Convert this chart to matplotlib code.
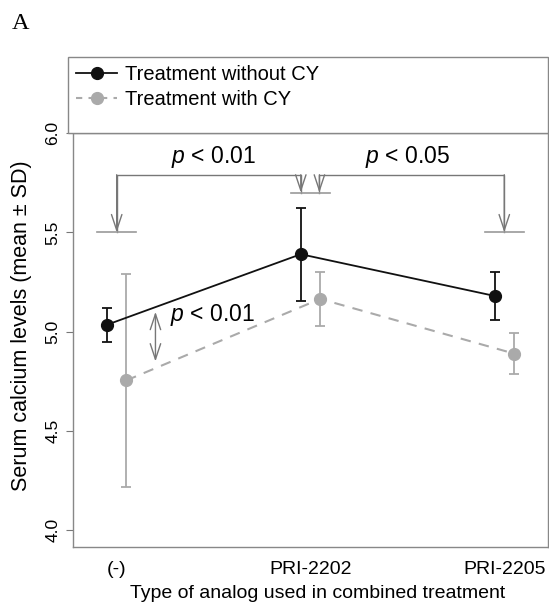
import matplotlib
matplotlib.use("Agg")
import matplotlib.pyplot as plt
from matplotlib.patches import Rectangle

plt.rcParams.update({"font.family": ["Liberation Sans", "DejaVu Sans"],
                     "mathtext.fontset": "custom",
                     "mathtext.it": "Liberation Sans:italic",
                     "mathtext.rm": "Liberation Sans"})

# data
cats = ["(-)", "PRI-2202", "PRI-2205"]
mean_no_cy = [5.035, 5.39, 5.18]
sd_no_cy = [0.085, 0.235, 0.12]
mean_cy = [4.755, 5.165, 4.89]
sd_cy = [0.537, 0.135, 0.105]

BLACK = "#111111"
GREY = "#aaaaaa"
LINE = "#777777"

fig = plt.figure(figsize=(5.49, 6.14), dpi=100)
ax = fig.add_axes([72.7/549, 1-547.3/614, (547.7-72.7)/549, (547.3-133)/614])

x = [1, 2, 3]
off = 0.05
xb = [v - off for v in x]
xg = [v + off for v in x]

ax.errorbar(xb, mean_no_cy, yerr=sd_no_cy, color=BLACK, lw=1.3, marker="o", ms=8.5,
            capsize=3.3, elinewidth=1.3, capthick=1.3, zorder=4)
ax.errorbar(xg, mean_cy, yerr=sd_cy, color=GREY, lw=1.5, ls=(0, (5, 4)), marker="o", ms=8.5,
            capsize=3.3, elinewidth=1.3, capthick=1.3, zorder=3)

ax.set_xlim(0.773, 3.224)
ax.set_ylim(3.915, 6.0)
ax.set_xticks(x)
ax.set_xticklabels(cats, fontsize=14)
ax.tick_params(axis="x", length=0, pad=10)
ax.set_yticks([4.0, 4.5, 5.0, 5.5, 6.0])
ax.set_yticklabels(["4.0", "4.5", "5.0", "5.5", "6.0"], rotation=90, va="center", fontsize=12.5)
ax.tick_params(axis="y", length=5, color=LINE, pad=4)
for s in ax.spines.values():
    s.set_color("#888888")
    s.set_linewidth(1.0)
ax.set_xlabel("Type of analog used in combined treatment", fontsize=14)
ax.xaxis.set_label_coords(0.515, -0.09)
ax.set_ylabel("Serum calcium levels (mean \u00b1 SD)", fontsize=15.5)
ax.yaxis.set_label_coords(-0.086, 0.535)

# significance brackets
yb = 5.79
ax.plot([1, 1, 1.95, 1.95], [5.5, yb, yb, 5.70], color=LINE, lw=1)
ax.plot([2.046, 2.046, 3, 3], [5.70, yb, yb, 5.5], color=LINE, lw=1)
for cx, ly in [(1, 5.5), (2, 5.70), (3, 5.5)]:
    ax.plot([cx - 0.1, cx + 0.1], [ly, ly], color="#999999", lw=1.2)
arw = dict(arrowstyle="->,head_length=0.75,head_width=0.25", color=LINE, lw=1,
           shrinkA=0, shrinkB=0, mutation_scale=15)
for ax_x, top, bot in [(1, yb, 5.5), (1.95, yb, 5.70), (2.046, yb, 5.70), (3, yb, 5.5)]:
    ax.annotate("", xy=(ax_x, bot), xytext=(ax_x, top), arrowprops=arw)
ax.annotate("", xy=(1.2, 4.85), xytext=(1.2, 5.10),
            arrowprops=dict(arrowstyle="<->,head_length=0.75,head_width=0.25", color=LINE,
                            lw=1, shrinkA=0, shrinkB=0, mutation_scale=15))
ax.text(1.5, 5.848, "$p$ < 0.01", ha="center", va="baseline", fontsize=16.5)
ax.text(2.5, 5.848, "$p$ < 0.05", ha="center", va="baseline", fontsize=16.5)
ax.text(1.275, 5.052, "$p$ < 0.01", ha="left", va="baseline", fontsize=16.5)

# legend box
fig.patches.append(Rectangle((67.7/549, 1-133/614), (548-67.7)/549, (133-56.7)/614,
                             transform=fig.transFigure, fc="white", ec="#888888", lw=1))
leg_handles = [plt.Line2D([], [], color=BLACK, lw=1.3, marker="o", ms=8.5),
               plt.Line2D([], [], color=GREY, lw=1.5, ls=(0, (3, 3)), marker="o", ms=8.5)]
fig.legend(leg_handles, ["Treatment without CY", "Treatment with CY"],
           loc="upper left", bbox_to_anchor=(76/549, 1-65/614), frameon=False,
           fontsize=14.5, handlelength=2.05, handletextpad=0.38, labelspacing=0.3,
           borderaxespad=0, borderpad=0)

fig.text(12/549, 1-29/614, "A", fontsize=17.5, family="Liberation Serif")

fig.savefig("out.png", dpi=100)
